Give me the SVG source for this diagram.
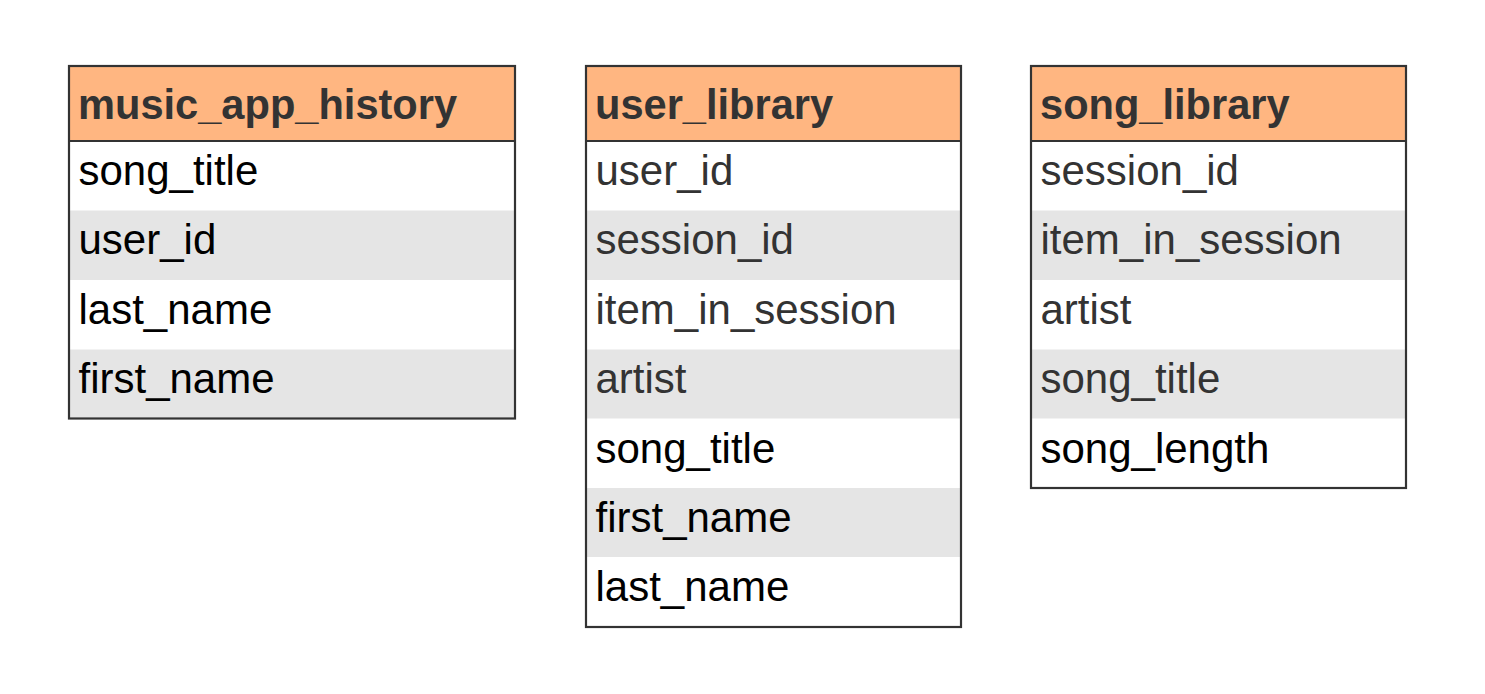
<svg xmlns="http://www.w3.org/2000/svg" width="1485" height="694" viewBox="0 0 1485 694">
<style>
.hd{fill:#FFB681}
.alt{fill:#E5E5E5}
.frame{fill:none;stroke:#333333;stroke-width:2.2}
.sep{stroke:#333333;stroke-width:2.2}
text{font-family:"Liberation Sans",Arial,sans-serif;font-size:42px}
.ht{font-weight:bold;fill:#333333;font-size:41.6px}
.k{fill:#000000}
.g{fill:#333333}
</style>
<rect width="1485" height="694" fill="#ffffff"/>
<g id="music_app_history">
<rect class="hd" x="69" y="66" width="446" height="75"/>
<rect class="alt" x="69" y="210.5" width="446" height="69.5"/>
<rect class="alt" x="69" y="349.5" width="446" height="69"/>
<line class="sep" x1="69" y1="141" x2="515" y2="141"/>
<rect class="frame" x="69" y="66" width="446" height="352.5"/>
<text class="ht" x="78" y="119">music_app_history</text>
<text class="k" x="78.5" y="184.5">song_title</text>
<text class="k" x="78.5" y="254">user_id</text>
<text class="k" x="78.5" y="323.5">last_name</text>
<text class="k" x="78.5" y="393">first_name</text>
</g>
<g id="user_library">
<rect class="hd" x="586" y="66" width="375" height="75"/>
<rect class="alt" x="586" y="210.5" width="375" height="69.5"/>
<rect class="alt" x="586" y="349.5" width="375" height="69"/>
<rect class="alt" x="586" y="488" width="375" height="69"/>
<line class="sep" x1="586" y1="141" x2="961" y2="141"/>
<rect class="frame" x="586" y="66" width="375" height="561"/>
<text class="ht" x="595" y="119">user_library</text>
<text class="g" x="595.5" y="184.5">user_id</text>
<text class="g" x="595.5" y="254">session_id</text>
<text class="g" x="595.5" y="323.5">item_in_session</text>
<text class="g" x="595.5" y="393">artist</text>
<text class="k" x="595.5" y="462.5">song_title</text>
<text class="k" x="595.5" y="532">first_name</text>
<text class="k" x="595.5" y="601">last_name</text>
</g>
<g id="song_library">
<rect class="hd" x="1031" y="66" width="375" height="75"/>
<rect class="alt" x="1031" y="210.5" width="375" height="69.5"/>
<rect class="alt" x="1031" y="349.5" width="375" height="69"/>
<line class="sep" x1="1031" y1="141" x2="1406" y2="141"/>
<rect class="frame" x="1031" y="66" width="375" height="422"/>
<text class="ht" x="1040" y="119">song_library</text>
<text class="g" x="1040.5" y="184.5">session_id</text>
<text class="g" x="1040.5" y="254">item_in_session</text>
<text class="g" x="1040.5" y="323.5">artist</text>
<text class="g" x="1040.5" y="393">song_title</text>
<text class="k" x="1040.5" y="462.5">song_length</text>
</g>
<g id="connectors"></g>
</svg>
